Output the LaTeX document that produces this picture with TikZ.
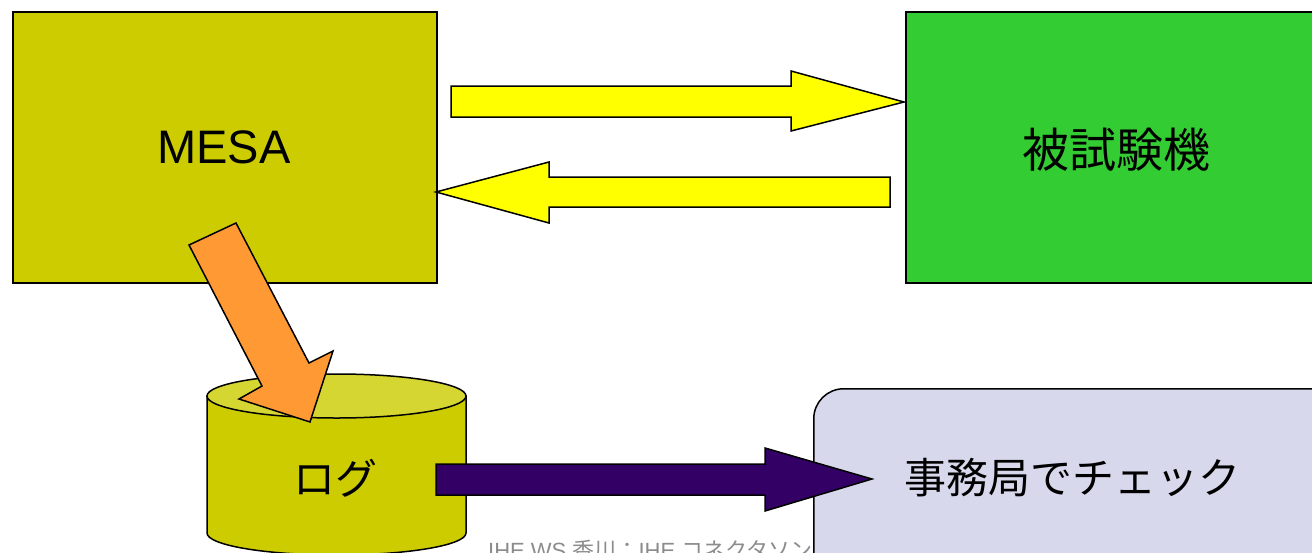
\documentclass[tikz,border=0pt]{standalone}
\usepackage{fontspec}
\usetikzlibrary{shapes.geometric}
\setmainfont{Liberation Sans}
\newfontfamily\jp{Noto Sans CJK JP}
\definecolor{mesaC}{RGB}{204,204,0}
\definecolor{dutC}{RGB}{51,204,51}
\definecolor{yelC}{RGB}{255,255,0}
\definecolor{orgC}{RGB}{255,153,51}
\definecolor{purC}{RGB}{51,0,102}
\definecolor{topC}{RGB}{214,214,51}
\definecolor{chkC}{RGB}{216,216,236}
\definecolor{ftC}{RGB}{140,140,140}
\tikzset{
  outl/.style={draw=black, line width=1.5pt, line join=miter},
  boxshape/.style={outl, rectangle, inner sep=0pt, anchor=north west},
  lbl/.style={font=\fontsize{47}{56}\selectfont, text=black, inner sep=0pt},
}
\begin{document}
\begin{tikzpicture}[x=1pt,y=-1pt]
\clip (0,0) rectangle (1312,552);
\fill[white] (0,0) rectangle (1312,552);
% footer text (behind the box)
\node[font=\fontsize{22}{26}\selectfont, text=ftC, anchor=base west, inner sep=0pt] (foot) at (488,558) {IHE WS {\jp 香川：}IHE {\jp コネクタソン}};
% boxes
\node[boxshape, fill=mesaC, minimum width=424pt, minimum height=271pt] (mesa) at (12,11) {};
\node[lbl] (mesat) at (224,147) {MESA};
\node[boxshape, fill=dutC, minimum width=430pt, minimum height=271pt] (dut) at (905,11) {};
\node[lbl, font=\jp\fontsize{47}{56}\selectfont] (dutt) at (1116,150) {被試験機};
% yellow arrows
\coordinate (a1s) at (451,102);
\coordinate (a1t) at (904,102);
\fill[yelC, outl] (451,86) -- (791,86) -- (791,71) -- (a1t) -- (791,131) -- (791,117) -- (451,117) -- cycle;
\coordinate (a2s) at (890,192);
\coordinate (a2t) at (436,192);
\fill[yelC, outl] (890,177) -- (549,177) -- (549,162) -- (a2t) -- (549,223) -- (549,207) -- (890,207) -- cycle;
% cylinder
\fill[mesaC, outl] (207,396) -- (207,533) arc[start angle=180, end angle=0, x radius=129.5, y radius=22] -- (466,396) -- cycle;
\node[outl, fill=topC, ellipse, minimum width=259pt, minimum height=44pt, inner sep=0pt] (cyltop) at (336.5,396) {};
\node[lbl, font=\jp\fontsize{42}{50}\selectfont] (log) at (335,478) {ログ};
% orange arrow
\coordinate (oT) at (310,422);
\fill[orgC, outl] (189,245) -- (236,223) -- (309,363) -- (333,351) -- (oT) -- (239,399) -- (262,386) -- cycle;
% check box
\node[outl, fill=chkC, rectangle, rounded corners=30pt, anchor=north west, minimum width=540pt, minimum height=200pt] (chk) at (813,388) {};
\node[lbl, font=\jp\fontsize{42}{50}\selectfont] (chkt) at (1072,478) {事務局でチェック};
% purple arrow
\coordinate (pT) at (872,479);
\fill[purC, outl] (436,464) -- (765,464) -- (765,448) -- (pT) -- (765,511) -- (765,495) -- (436,495) -- cycle;
\end{tikzpicture}
\end{document}
